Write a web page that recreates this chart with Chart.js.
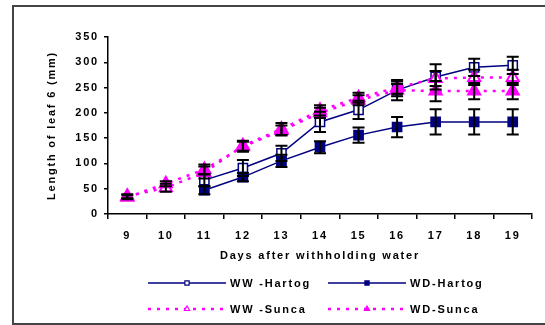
<!DOCTYPE html>
<html>
<head>
<meta charset="utf-8">
<script src="https://cdn.jsdelivr.net/npm/chart.js@4"></script>
<style>
  html, body { margin: 0; padding: 0; background: #fff; overflow: hidden; }
  #frame { position: absolute; left: 12px; top: 5px; width: 600px; height: 316px; border: 2px solid #444; }
  #wrap { position: absolute; left: 0; top: 0; width: 545px; height: 325px; }
</style>
</head>
<body>
<div id="frame"></div>
<div id="wrap"><canvas id="myChart" width="545" height="325"></canvas></div>
<script>
// Datos
const dias = ["9", "10", "11", "12", "13", "14", "15", "16", "17", "18", "19"];
const wwHartog = [null, null, 67, 91, 120, 182, 206, 245, 271, 290, 294];
const wdHartog = [null, null, 47, 73, 105, 132, 156, 172, 182, 182, 182];
const wwSunca = [35, 52, 82, 135, 168, 205, 230, 250, 268, 270, 270];
const wdSunca = [33, 60, 88, 133, 165, 200, 225, 245, 243, 243, 243];

// Barras de error (+/-)
const wwHartogErr = [null, null, 12, 16, 15, 20, 18, 20, 25, 17, 17];
const wdHartogErr = [null, null, 8, 8, 12, 12, 15, 20, 25, 25, 25];
const wwSuncaErr = [4, 8, 12, 10, 12, 10, 10, 12, 15, 15, 15];
const wdSuncaErr = [4, 5, 10, 10, 10, 10, 10, 12, 20, 16, 16];

const yTicks = [0, 50, 100, 150, 200, 250, 300, 350];

const fuente = "'Liberation Sans', Arial, sans-serif";
const espaciado = "1.8px";

// Barras de error dibujadas con las escalas del chart
const errorBars = {
  id: "errorBars",
  afterDatasetsDraw(chart) {
    const ctx = chart.ctx;
    const y = chart.scales.y;
    ctx.save();
    ctx.strokeStyle = "#000";
    ctx.lineWidth = 2;
    chart.data.datasets.forEach((ds, i) => {
      const meta = chart.getDatasetMeta(i);
      ds.errores.forEach((e, j) => {
        const v = ds.data[j];
        if (v == null || e == null) return;
        const x = meta.data[j].x;
        const y1 = y.getPixelForValue(v + e);
        const y2 = y.getPixelForValue(v - e);
        ctx.beginPath();
        ctx.moveTo(x, y1); ctx.lineTo(x, y2);
        ctx.moveTo(x - 6, y1); ctx.lineTo(x + 6, y1);
        ctx.moveTo(x - 6, y2); ctx.lineTo(x + 6, y2);
        ctx.stroke();
      });
    });
    ctx.restore();
  }
};

// Leyenda con línea y marcador
const leyenda = {
  id: "leyenda",
  afterDraw(chart) {
    const ctx = chart.ctx;
    const cols = [148, 328];
    const rows = [283, 309];
    ctx.save();
    ctx.font = "bold 11px " + fuente;
    ctx.textBaseline = "middle";
    chart.data.datasets.forEach((ds, i) => {
      const x = cols[i % 2];
      const yy = rows[Math.floor(i / 2)];
      ctx.strokeStyle = ds.borderColor;
      ctx.lineWidth = ds.borderWidth;
      ctx.setLineDash(ds.borderDash || []);
      ctx.beginPath();
      ctx.moveTo(x, yy); ctx.lineTo(x + 78, yy);
      ctx.stroke();
      ctx.setLineDash([]);
      ctx.fillStyle = ds.pointBackgroundColor;
      ctx.strokeStyle = ds.pointBorderColor;
      ctx.lineWidth = 1.2;
      Chart.helpers.drawPoint(ctx, {pointStyle: ds.pointStyle, radius: 3, rotation: 0, borderWidth: 1.2}, x + 39, yy);
      ctx.fillStyle = "#000";
      ctx.fillText(ds.label, x + 82, yy + 1);
    });
    ctx.restore();
  }
};

const espacio = {
  id: "espacio",
  beforeUpdate(chart) { chart.ctx.letterSpacing = espaciado; },
  beforeDraw(chart) { chart.ctx.letterSpacing = espaciado; }
};

Chart.defaults.font.family = fuente;
Chart.defaults.font.size = 11;
Chart.defaults.font.weight = "bold";
Chart.defaults.color = "#000";

const ctx = document.getElementById("myChart").getContext("2d");
const myChart = new Chart(ctx, {
  type: "line",
  data: {
    labels: dias,
    datasets: [
      {
        label: "WW -Hartog", data: wwHartog, errores: wwHartogErr,
        borderColor: "#000080", borderWidth: 1.5,
        pointStyle: "rect", pointRadius: 6.5, pointBackgroundColor: "#fff",
        pointBorderColor: "#000080", pointBorderWidth: 1.5, order: 3
      },
      {
        label: "WD-Hartog", data: wdHartog, errores: wdHartogErr,
        borderColor: "#000080", borderWidth: 1.5,
        pointStyle: "rect", pointRadius: 6.5, pointBackgroundColor: "#000080",
        pointBorderColor: "#000080", pointBorderWidth: 1.5, order: 2
      },
      {
        label: "WW -Sunca", data: wwSunca, errores: wwSuncaErr,
        borderColor: "#FF00FF", borderWidth: 2.5, borderDash: [3, 6],
        pointStyle: "triangle", pointRadius: 7, pointBackgroundColor: "#fff",
        pointBorderColor: "#FF00FF", pointBorderWidth: 2, order: 1
      },
      {
        label: "WD-Sunca", data: wdSunca, errores: wdSuncaErr,
        borderColor: "#FF00FF", borderWidth: 2.5, borderDash: [3, 6],
        pointStyle: "triangle", pointRadius: 7, pointBackgroundColor: "#FF00FF",
        pointBorderColor: "#FF00FF", pointBorderWidth: 2, order: 0
      }
    ]
  },
  options: {
    responsive: false,
    animation: false,
    spanGaps: false,
    layout: { padding: { left: 41, top: 37, right: 13, bottom: 58 } },
    plugins: {
      legend: { display: false },
      tooltip: { enabled: false }
    },
    scales: {
      x: {
        type: "category",
        offset: true,
        grid: { offset: true, drawOnChartArea: false, tickLength: 5, color: "#000", lineWidth: 1.5 },
        border: { color: "#000", width: 1.5 },
        ticks: { padding: 10, maxRotation: 0 },
        title: { display: true, text: "Days after withholding water", padding: { top: 4, bottom: 4 } },
        afterFit(scale) { scale.height = 53; }
      },
      y: {
        min: 0, max: 350,
        afterBuildTicks(scale) { scale.ticks = yTicks.map(v => ({value: v})); },
        grid: { drawOnChartArea: false, tickLength: 4, color: "#000", lineWidth: 1.5 },
        border: { color: "#000", width: 1.5 },
        ticks: { padding: 5 },
        title: { display: true, text: "Length of leaf 6 (mm)", padding: { top: 4, bottom: 4 } },
        afterFit(scale) { scale.width = 67; }
      }
    }
  },
  plugins: [espacio, errorBars, leyenda]
});
</script>
</body>
</html>
